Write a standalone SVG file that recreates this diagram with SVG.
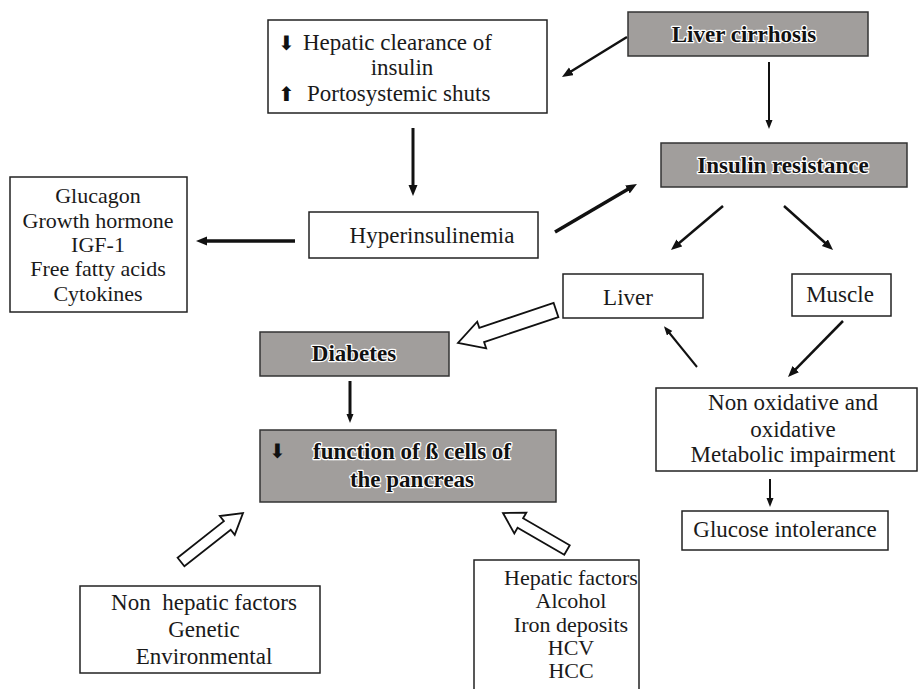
<svg xmlns="http://www.w3.org/2000/svg" width="918" height="689" viewBox="0 0 918 689">
<defs>
  <marker id="ah" markerUnits="userSpaceOnUse" markerWidth="12" markerHeight="10" refX="1" refY="4.5" orient="auto">
    <path d="M0,0 L11,4.5 L0,9 z" fill="#111"/>
  </marker>
  <marker id="ahs" markerUnits="userSpaceOnUse" markerWidth="10" markerHeight="8" refX="1" refY="3.5" orient="auto">
    <path d="M0,0 L9,3.5 L0,7 z" fill="#111"/>
  </marker>
</defs>

<g id="connectors" stroke="#111" fill="none">
  <line x1="627" y1="37" x2="570.5" y2="71.8" stroke-width="2.5" marker-end="url(#ah)"/>
  <line x1="769" y1="62" x2="769" y2="121" stroke-width="2" marker-end="url(#ahs)"/>
  <line x1="413" y1="128" x2="413" y2="186" stroke-width="3" marker-end="url(#ah)"/>
  <line x1="295" y1="241" x2="206" y2="241" stroke-width="3.5" marker-end="url(#ah)"/>
  <line x1="555" y1="232" x2="628.3" y2="189" stroke-width="3.5" marker-end="url(#ah)"/>
  <line x1="723" y1="206" x2="678.6" y2="243.5" stroke-width="2.5" marker-end="url(#ah)"/>
  <line x1="784" y1="206" x2="825.6" y2="243.3" stroke-width="2.5" marker-end="url(#ah)"/>
  <line x1="697" y1="367" x2="669" y2="332.5" stroke-width="2" marker-end="url(#ahs)"/>
  <line x1="843" y1="321" x2="795" y2="369.9" stroke-width="2.5" marker-end="url(#ah)"/>
  <line x1="770" y1="479" x2="770" y2="499" stroke-width="2" marker-end="url(#ahs)"/>
  <line x1="350" y1="381" x2="350" y2="415" stroke-width="3" marker-end="url(#ahs)"/>
  <g fill="#fff" stroke="#111" stroke-width="1.8">
    <polygon transform="translate(556,310) rotate(161.4)" points="0,-7.5 78.4,-7.5 78.4,-14 103.4,0 78.4,14 78.4,7.5 0,7.5"/>
    <polygon transform="translate(181,562) rotate(-38.3)" points="0,-5.5 59,-5.5 59,-12 79,0 59,12 59,5.5 0,5.5"/>
    <polygon transform="translate(567,550) rotate(-150)" points="0,-5.5 53.9,-5.5 53.9,-12 73.9,0 53.9,12 53.9,5.5 0,5.5"/>
  </g>
</g>

<g id="hepatic-clearance">
  <rect x="268" y="20" width="279" height="93" fill="#fff" stroke="#222" stroke-width="1.5"/>
  <text font-family="DejaVu Sans" font-size="20" fill="#111" x="278" y="50">⬇</text>
  <text font-family="Liberation Serif" font-size="23" fill="#1a1a1a" x="303" y="50">Hepatic clearance of</text>
  <text font-family="Liberation Serif" font-size="23" fill="#1a1a1a" text-anchor="middle" x="402" y="75">insulin</text>
  <text font-family="DejaVu Sans" font-size="20" fill="#111" x="278" y="101">⬆</text>
  <text font-family="Liberation Serif" font-size="23" fill="#1a1a1a" x="307" y="101">Portosystemic shuts</text>
</g>

<g id="liver-cirrhosis">
  <rect x="628" y="12" width="240" height="44" fill="#a19e9c" stroke="#333" stroke-width="1.5"/>
  <text font-family="Liberation Serif" font-size="23" font-weight="bold" fill="#111" stroke="#fff" stroke-width="2.5" stroke-linejoin="round" paint-order="stroke" text-anchor="middle" x="744" y="42">Liver cirrhosis</text>
</g>

<g id="insulin-resistance">
  <rect x="661" y="143" width="246" height="44" fill="#a19e9c" stroke="#333" stroke-width="1.5"/>
  <text font-family="Liberation Serif" font-size="23" font-weight="bold" fill="#111" stroke="#fff" stroke-width="2.5" stroke-linejoin="round" paint-order="stroke" text-anchor="middle" x="783" y="173">Insulin resistance</text>
</g>

<g id="hyperinsulinemia">
  <rect x="309" y="212" width="229" height="46" fill="#fff" stroke="#222" stroke-width="1.5"/>
  <text font-family="Liberation Serif" font-size="23" fill="#1a1a1a" text-anchor="middle" x="432" y="243">Hyperinsulinemia</text>
</g>

<g id="hormones">
  <rect x="10" y="177" width="177" height="135" fill="#fff" stroke="#222" stroke-width="1.5"/>
  <text font-family="Liberation Serif" font-size="22" fill="#1a1a1a" text-anchor="middle" x="98" y="203">Glucagon</text>
  <text font-family="Liberation Serif" font-size="22" fill="#1a1a1a" text-anchor="middle" x="98" y="228">Growth hormone</text>
  <text font-family="Liberation Serif" font-size="22" fill="#1a1a1a" text-anchor="middle" x="98" y="252">IGF-1</text>
  <text font-family="Liberation Serif" font-size="22" fill="#1a1a1a" text-anchor="middle" x="98" y="276">Free fatty acids</text>
  <text font-family="Liberation Serif" font-size="22" fill="#1a1a1a" text-anchor="middle" x="98" y="301">Cytokines</text>
</g>

<g id="liver">
  <rect x="563" y="274" width="140" height="44" fill="#fff" stroke="#222" stroke-width="1.5"/>
  <text font-family="Liberation Serif" font-size="23" fill="#1a1a1a" text-anchor="middle" x="628" y="305">Liver</text>
</g>

<g id="muscle">
  <rect x="792" y="274" width="99" height="42" fill="#fff" stroke="#222" stroke-width="1.5"/>
  <text font-family="Liberation Serif" font-size="23" fill="#1a1a1a" text-anchor="middle" x="840" y="302">Muscle</text>
</g>

<g id="diabetes">
  <rect x="260" y="332" width="189" height="44" fill="#a19e9c" stroke="#333" stroke-width="1.5"/>
  <text font-family="Liberation Serif" font-size="23" font-weight="bold" fill="#111" stroke="#fff" stroke-width="2.5" stroke-linejoin="round" paint-order="stroke" text-anchor="middle" x="354" y="361">Diabetes</text>
</g>

<g id="beta-cells">
  <rect x="260" y="430" width="296" height="72" fill="#a19e9c" stroke="#333" stroke-width="1.5"/>
  <text font-family="DejaVu Sans" font-size="20" fill="#111" x="269" y="458">⬇</text>
  <text font-family="Liberation Serif" font-size="23" font-weight="bold" fill="#111" stroke="#fff" stroke-width="2.5" stroke-linejoin="round" paint-order="stroke" text-anchor="middle" x="412" y="459">function of ß cells of</text>
  <text font-family="Liberation Serif" font-size="23" font-weight="bold" fill="#111" stroke="#fff" stroke-width="2.5" stroke-linejoin="round" paint-order="stroke" text-anchor="middle" x="412" y="487">the pancreas</text>
</g>

<g id="metabolic">
  <rect x="656" y="388" width="261" height="83" fill="#fff" stroke="#222" stroke-width="1.5"/>
  <text font-family="Liberation Serif" font-size="23" fill="#1a1a1a" text-anchor="middle" x="793" y="410">Non oxidative and</text>
  <text font-family="Liberation Serif" font-size="23" fill="#1a1a1a" text-anchor="middle" x="793" y="437">oxidative</text>
  <text font-family="Liberation Serif" font-size="23" fill="#1a1a1a" text-anchor="middle" x="793" y="462">Metabolic impairment</text>
</g>

<g id="glucose-intolerance">
  <rect x="682" y="511" width="206" height="39" fill="#fff" stroke="#222" stroke-width="1.5"/>
  <text font-family="Liberation Serif" font-size="23" fill="#1a1a1a" text-anchor="middle" x="785" y="537">Glucose intolerance</text>
</g>

<g id="non-hepatic">
  <rect x="80" y="586" width="240" height="87" fill="#fff" stroke="#222" stroke-width="1.5"/>
  <text font-family="Liberation Serif" font-size="23" fill="#1a1a1a" text-anchor="middle" x="204" y="610" xml:space="preserve">Non  hepatic factors</text>
  <text font-family="Liberation Serif" font-size="23" fill="#1a1a1a" text-anchor="middle" x="204" y="637">Genetic</text>
  <text font-family="Liberation Serif" font-size="23" fill="#1a1a1a" text-anchor="middle" x="204" y="664">Environmental</text>
</g>

<g id="hepatic-factors">
  <rect x="474" y="560" width="165" height="140" fill="#fff" stroke="#222" stroke-width="1.5"/>
  <text font-family="Liberation Serif" font-size="22" fill="#1a1a1a" text-anchor="middle" x="571" y="585">Hepatic factors</text>
  <text font-family="Liberation Serif" font-size="22" fill="#1a1a1a" text-anchor="middle" x="571" y="608">Alcohol</text>
  <text font-family="Liberation Serif" font-size="22" fill="#1a1a1a" text-anchor="middle" x="571" y="632">Iron deposits</text>
  <text font-family="Liberation Serif" font-size="22" fill="#1a1a1a" text-anchor="middle" x="571" y="655">HCV</text>
  <text font-family="Liberation Serif" font-size="22" fill="#1a1a1a" text-anchor="middle" x="571" y="678">HCC</text>
</g>
</svg>
